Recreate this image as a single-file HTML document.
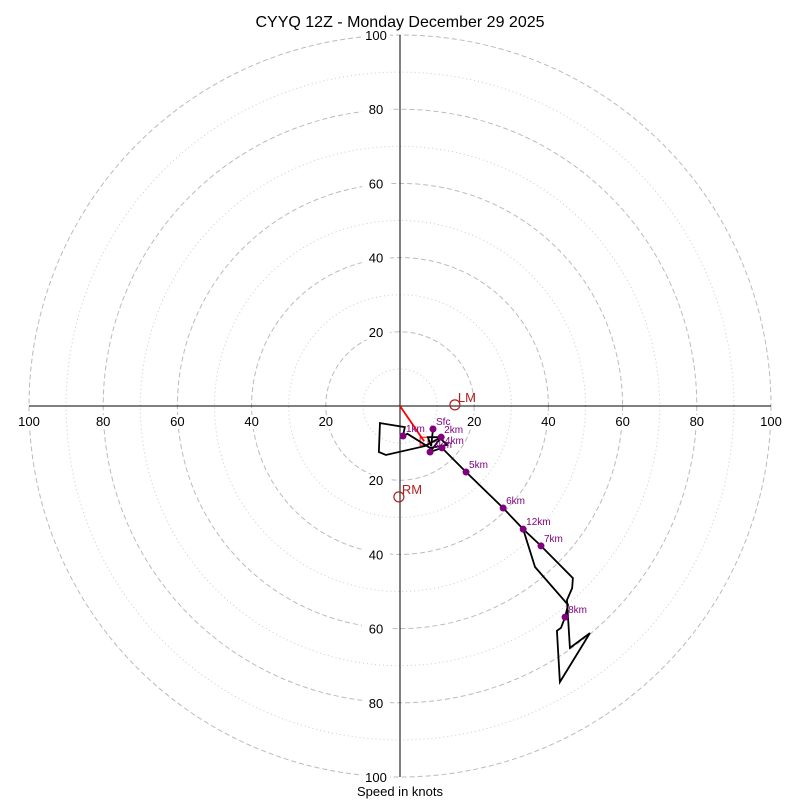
<!DOCTYPE html>
<html><head><meta charset="utf-8"><style>
body{margin:0;background:#fff;font-family:"Liberation Sans",sans-serif}
</style></head><body>
<svg id="c" width="800" height="800" xmlns="http://www.w3.org/2000/svg" font-family="Liberation Sans, sans-serif">
<text x="400" y="27" text-anchor="middle" font-size="16">CYYQ 12Z - Monday December 29 2025</text>
<text x="400" y="796" text-anchor="middle" font-size="13">Speed in knots</text>
<g id="rings"></g><g id="axes"></g><g id="series"></g>
</svg>
<script>
const ringMajor=[20,40,60,80,100];
const ringMinor=[10,30,50,70,90];
const tickLabels=[20,40,60,80,100];
const uWind=[8.9,8.4,7.5,10.5,12.7,8.1,2.0,0.8,1.3,-5.4,-5.7,-3.8,6.7,11.1,8.1,11.3,17.8,27.8,33.2,38.0,46.6,46.4,45.0,45.8,51.2,43.1,42.6,42.3,43.4,44.5,45.3,36.4,33.2];
const vWind=[-6.2,-10.8,-8.4,-8.4,-10.5,-11.3,-7.5,-8.1,-5.7,-4.6,-12.4,-13.2,-10.8,-8.4,-12.4,-11.3,-17.8,-27.5,-33.2,-37.7,-46.4,-49.1,-52.3,-65.2,-61.2,-74.4,-65.8,-60.6,-59.8,-56.9,-53.6,-43.4,-33.2];
const markLabels=["Sfc","1km","2km","3km","4km","5km","6km","7km","8km","12km"];
const markU=[8.9,0.8,11.1,8.1,11.3,17.8,27.8,38.0,44.5,33.2];
const markV=[-6.2,-8.1,-8.4,-12.4,-11.3,-17.8,-27.5,-37.7,-56.9,-33.2];
const meanU=[6.5]; const meanV=[-9.5];
const lmU=[14.8]; const lmV=[0.3];
const rmU=[-0.3]; const rmV=[-24.5];
const cx=400,cy=406,R=371,maxV=100;
const sx=u=>cx+u/maxV*R, sy=v=>cy-v/maxV*R, sr=s=>s/maxV*R;
const NS="http://www.w3.org/2000/svg";
function mk(tag,attrs,parent){const e=document.createElementNS(NS,tag);for(const k in attrs)e.setAttribute(k,attrs[k]);document.getElementById(parent).appendChild(e);return e;}
ringMinor.forEach(r=>{const e=mk('circle',{cx:cx,cy:cy,r:sr(r),fill:'none',stroke:'#ccc','stroke-width':1,'stroke-dasharray':'1,3'},'rings');

});
ringMajor.forEach(r=>{const e=mk('circle',{cx:cx,cy:cy,r:sr(r),fill:'none',stroke:'#bbb','stroke-width':1,'stroke-dasharray':'5,3'},'rings');

});
let a=mk('line',{x1:sx(-maxV),y1:cy,x2:sx(maxV),y2:cy,stroke:'#000'},'axes');


a=mk('line',{x1:cx,y1:sy(maxV),x2:cx,y2:sy(-maxV),stroke:'#000'},'axes');


function tl(x,y,t,nm){const r=mk('rect',{x:x-14,y:y-11,width:28,height:14,fill:'#fff'},'axes');


const e=mk('text',{x:x,y:y,'text-anchor':'middle','font-size':13},'axes');e.textContent=t;

}
tickLabels.forEach(t=>{tl(sx(t),cy+20,t,'x-tick-label');tl(sx(-t),cy+20,t,'x-tick-label');tl(cx-24,sy(t)+5,t,'y-tick-label');tl(cx-24,sy(-t)+5,t,'y-tick-label');});
let ln=mk('line',{x1:cx,y1:cy,x2:sx(meanU[0]),y2:sy(meanV[0]),stroke:'red','stroke-width':1.8},'series');


ln=mk('rect',{x:sx(meanU[0])-4,y:sy(meanV[0])-4,width:8,height:8,fill:'none',stroke:'red'},'series');


const pts=uWind.map((u,i)=>sx(u)+','+sy(vWind[i])).join(' ');
const pl=mk('polyline',{points:pts,fill:'none',stroke:'#000','stroke-width':1.8},'series');


markU.forEach((u,i)=>{const c=mk('circle',{cx:sx(u),cy:sy(markV[i]),r:3.5,fill:'purple'},'series');


const t=mk('text',{x:sx(u)+3,y:sy(markV[i])-4,'font-size':10,fill:'purple'},'series');t.textContent=markLabels[i];

});
[[lmU,lmV,'LM','left-mover'],[rmU,rmV,'RM','right-mover']].forEach(([U,V,n,nm])=>{const c=mk('circle',{cx:sx(U[0]),cy:sy(V[0]),r:5,fill:'none',stroke:'#b22222','stroke-width':1.2},'series');


const t=mk('text',{x:sx(U[0])+3,y:sy(V[0])-3,'font-size':13,fill:'#b22222'},'series');t.textContent=n;

});
</script>
</body></html>
